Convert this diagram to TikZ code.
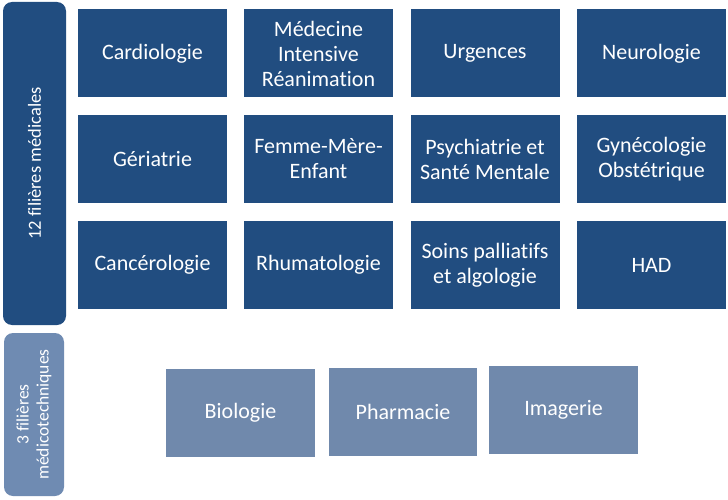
\documentclass[tikz,border=0pt]{standalone}
\usepackage{fontspec}
\setmainfont{Carlito}[Ligatures=NoCommon]
\usepackage{xcolor}
\usepackage{tikz}
\definecolor{navy}{HTML}{214D80}
\definecolor{steel}{HTML}{7089AC}
\definecolor{steelbar}{HTML}{6F8BB2}

\begin{document}
\begin{tikzpicture}[
  x=1pt,y=-1pt,
  font=\fontsize{22}{25}\selectfont,
  filiere/.style={fill=navy,text=white,minimum width=149pt,minimum height=88pt,align=center,inner sep=2pt,outer sep=0pt},
  medtech/.style={fill=steel,text=white,minimum width=149pt,minimum height=88pt,align=center,inner sep=2pt,outer sep=0pt},
  bar/.style={rounded corners=9pt,text=white,align=center,rotate=90,inner sep=0pt,outer sep=0pt}
]
\useasboundingbox (0,0) rectangle (728,500);
% groupes
\node[bar,fill=navy,minimum width=323pt,minimum height=63pt,font=\fontsize{18.5}{21}\selectfont] (medic) at (34.5,163.5) {12 filières médicales};
\node[bar,fill=steelbar,minimum width=163pt,minimum height=60pt,font=\fontsize{17.5}{20}\selectfont] (tech) at (34,414.5) {3 filières\\médicotechniques};
% filieres medicales
\node[filiere] (cardio) at (152.5,53.5) {Cardiologie};
\node[filiere] (mir)    at (318.5,53.5) {Médecine\\Intensive\\Réanimation};
\node[filiere] (urg)    at (485,53.5)   {Urgences};
\node[filiere] (neuro)  at (651.5,53.5) {Neurologie};
\node[filiere] (geria)  at (152.5,159)  {Gériatrie};
\node[filiere] (fme)    at (318.5,159)  {Femme-Mère-\\Enfant};
\node[filiere] (psy)    at (485,159)    {Psychiatrie et\\Santé Mentale};
\node[filiere] (gyn)    at (651.5,159)  {Gynécologie\\Obstétrique};
\node[filiere] (cancer) at (152.5,265)  {Cancérologie};
\node[filiere] (rhumato) at (318.5,265) {Rhumatologie};
\node[filiere] (soins)  at (485,265)    {Soins palliatifs\\et algologie};
\node[filiere] (had)    at (651.5,265)  {HAD};
% filieres medicotechniques
\node[medtech] (bio)    at (240.5,412.5) {Biologie};
\node[medtech,minimum width=148pt] (pharma) at (403,412) {Pharmacie};
\node[medtech] (imag)   at (563.5,410)   {Imagerie};
\end{tikzpicture}
\end{document}
